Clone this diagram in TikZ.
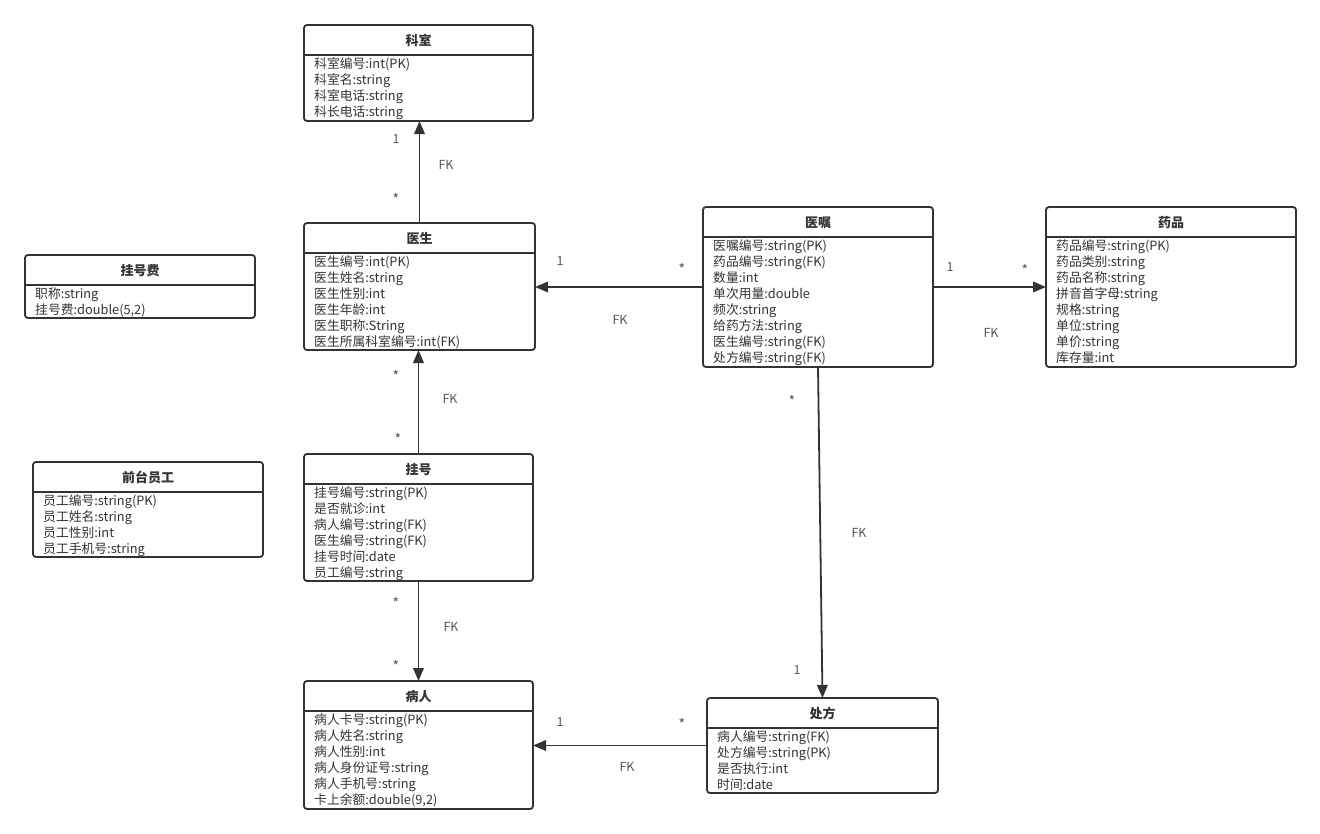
\documentclass[tikz,border=0pt]{standalone}
\usepackage{fontspec}
\setmainfont{Noto Sans CJK SC}
\usetikzlibrary{arrows.meta}
\definecolor{ink}{HTML}{333333}
\definecolor{lbl}{HTML}{555555}
\tikzset{
 clsbox/.style={draw=ink, line width=1.8pt, rounded corners=3pt, inner sep=0pt, outer sep=0pt, fill=white},
 hdrrule/.style={draw=ink, line width=1.8pt},
 clstitle/.style={font=\fontsize{13}{14}\selectfont\bfseries, text=ink, inner sep=0pt},
 clsattr/.style={font=\fontsize{12.8}{14}\selectfont, text=ink, anchor=base west, inner sep=0pt},
 assoc/.style={draw=ink, line width=1.8pt, -{Triangle[length=13pt,width=10.5pt]}},
 mult/.style={font=\fontsize{12.5}{14}\selectfont, text=lbl, inner sep=0pt},
 star/.style={font=\fontsize{14}{14}\selectfont, text=lbl, inner sep=0pt},
}
\newcommand{\umlclass}[7]{%
  \node[clsbox, minimum width=#4pt, minimum height=#5pt, anchor=north west] (#1) at (#2,#3) {};
  \draw[hdrrule] ([yshift=-30pt]#1.north west) -- ([yshift=-30pt]#1.north east);
  \node[clstitle] (#1-title) at ([yshift=-15.5pt]#1.north) {#6};
  \foreach \t [count=\i] in {#7} {
    \node[clsattr] (#1-a\i) at ([xshift=10pt,yshift={-(43.5+16*(\i-1))*1pt}]#1.north west) {\t};
  }
}
\begin{document}
\begin{tikzpicture}[x=1pt,y=-1pt]
\useasboundingbox[fill=white] (0,0) rectangle (1320,833);

\umlclass{keshi}{304}{25}{229}{96}{科室}{科室编号:int(PK),科室名:string,科室电话:string,科长电话:string}
\umlclass{yisheng}{304}{223}{231}{127}{医生}{医生编号:int(PK),医生姓名:string,医生性别:int,医生年龄:int,医生职称:String,医生所属科室编号:int(FK)}
\umlclass{guahaofei}{25}{255}{230}{63}{挂号费}{职称:string,{挂号费:double(5,2)}}
\umlclass{qiantai}{33}{462}{230}{95}{前台员工}{员工编号:string(PK),员工姓名:string,员工性别:int,员工手机号:string}
\umlclass{yizhu}{703}{207}{230}{160}{医嘱}{医嘱编号:string(PK),药品编号:string(FK),数量:int,单次用量:double,频次:string,给药方法:string,医生编号:string(FK),处方编号:string(FK)}
\umlclass{yaopin}{1046}{207}{250}{160}{药品}{药品编号:string(PK),药品类别:string,药品名称:string,拼音首字母:string,规格:string,单位:string,单价:string,库存量:int}
\umlclass{guahao}{304}{454}{229}{127}{挂号}{挂号编号:string(PK),是否就诊:int,病人编号:string(FK),医生编号:string(FK),挂号时间:date,员工编号:string}
\umlclass{bingren}{304}{681}{229}{128}{病人}{病人卡号:string(PK),病人姓名:string,病人性别:int,病人身份证号:string,病人手机号:string,{卡上余额:double(9,2)}}
\umlclass{chufang}{707}{698}{231}{95}{处方}{病人编号:string(FK),处方编号:string(PK),是否执行:int,时间:date}

% connectors
\draw[assoc] (yisheng.north) -- (yisheng.north |- keshi.south);
\draw[assoc] (yizhu.west) -- (yizhu.west -| yisheng.east);
\draw[assoc] (yizhu.east) -- (yizhu.east -| yaopin.west);
\draw[assoc] (guahao.north) -- (guahao.north |- yisheng.south);
\draw[assoc] (guahao.south) -- (guahao.south |- bingren.north);
\draw[assoc] (yizhu.south) -- (chufang.north);
\draw[assoc] (chufang.west) -- (chufang.west -| bingren.east);

% labels
\node[mult] (l1a) at (396,139) {1};
\node[mult] (l1b) at (446,165) {FK};
\node[star] (l1c) at (396,199) {*};

\node[mult] (l2a) at (560,261) {1};
\node[star] (l2b) at (682,269) {*};
\node[mult] (l2c) at (620,320) {FK};

\node[mult] (l3a) at (950,267) {1};
\node[star] (l3b) at (1025,270) {*};
\node[mult] (l3c) at (991,333) {FK};

\node[star] (l4a) at (396,376) {*};
\node[mult] (l4b) at (450,399) {FK};
\node[star] (l4c) at (398,439) {*};

\node[star] (l5a) at (396,603) {*};
\node[mult] (l5b) at (451,627) {FK};
\node[star] (l5c) at (396,666) {*};

\node[star] (l6a) at (792,401) {*};
\node[mult] (l6b) at (859,533) {FK};
\node[mult] (l6c) at (797,670) {1};

\node[mult] (l7a) at (560,722) {1};
\node[star] (l7b) at (682,724) {*};
\node[mult] (l7c) at (627,767) {FK};
\end{tikzpicture}
\end{document}
